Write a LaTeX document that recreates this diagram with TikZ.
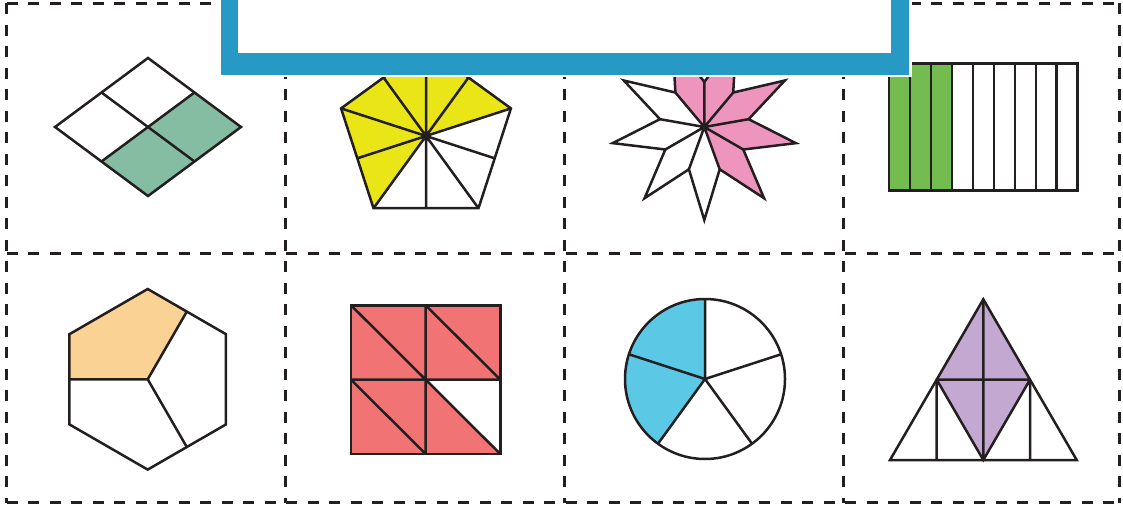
\documentclass[tikz,border=0pt]{standalone}
\usepackage{xcolor}
\usepackage{tikz}
\usetikzlibrary{calc}

\definecolor{bannerblue}{RGB}{38,153,197}
\definecolor{rhombusgreen}{RGB}{133,189,163}
\definecolor{pentyellow}{RGB}{234,229,22}
\definecolor{starpink}{RGB}{238,149,190}
\definecolor{bargreen}{RGB}{117,188,80}
\definecolor{hexorange}{RGB}{250,210,147}
\definecolor{squarered}{RGB}{242,115,116}
\definecolor{pieblue}{RGB}{91,201,229}
\definecolor{trililac}{RGB}{195,169,209}
\definecolor{inkline}{RGB}{35,31,32}

\begin{document}
\begin{tikzpicture}[
    x=0.5pt,
    y=0.5pt,
    outline/.style={
        line width=1.25pt,
        draw=inkline,
        line join=miter
    },
    cutline/.style={
        line width=1.35pt,
        draw=inkline,
        dash pattern=on 5.5pt off 5.25pt
    }
]

\useasboundingbox (0,0) rectangle (1123,504);
\clip (0,0) rectangle (1123,504);

% ---------------------------------------------------------
% Dashed cutting grid
% ---------------------------------------------------------

\draw[cutline] (6.5,500.7) -- (1119.5,500.7);
\draw[cutline] (6.5,250.7) -- (1119.5,250.7);
\draw[cutline] (6.5,1.5) -- (1119.5,1.5);

\draw[cutline] (6.5,500.7) -- (6.5,1.5);
\draw[cutline] (285.5,500.7) -- (285.5,1.5);
\draw[cutline] (564.7,500.7) -- (564.7,1.5);
\draw[cutline] (843.7,500.7) -- (843.7,1.5);
\draw[cutline] (1119.5,500.7) -- (1119.5,1.5);

% ---------------------------------------------------------
% Rhombus in quarters
% ---------------------------------------------------------

\coordinate (rhombusC) at (148,377);

\fill[rhombusgreen]
    (rhombusC) -- (194.5,411.5) -- (241,377)
    -- (148,308) -- (101.5,342.5) -- cycle;

\draw[outline]
    (148,446) -- (241,377) -- (148,308) -- (55,377) -- cycle;
\draw[outline] (101.5,411.5) -- (194.5,342.5);
\draw[outline] (194.5,411.5) -- (101.5,342.5);

% ---------------------------------------------------------
% Pentagon in tenths
% ---------------------------------------------------------

\coordinate (pentC) at (426,368);

\begin{scope}[shift={(pentC)}]
    \fill[pentyellow]
        (0,0) -- (234:89.3) -- (162:89.3)
        -- (90:89.3) -- (18:89.3) -- cycle;

    \draw[outline]
        (90:89.3) -- (162:89.3) -- (234:89.3)
        -- (306:89.3) -- (18:89.3) -- cycle;

    % spokes to corners and edge midpoints
    \draw[outline]
        (0,0) -- (90:89.3)  (0,0) -- (162:89.3)
        (0,0) -- (234:89.3) (0,0) -- (306:89.3)
        (0,0) -- (18:89.3)
        (0,0) -- (54:72.2)  (0,0) -- (126:72.2)
        (0,0) -- (198:72.2) (0,0) -- (270:72.2)
        (0,0) -- (342:72.2);
\end{scope}

% ---------------------------------------------------------
% Nine-pointed star
% ---------------------------------------------------------

\coordinate (starC) at (704.3,377);

\begin{scope}[shift={(starC)}]
    \fill[starpink]
        (0,0) -- (130:45) -- (110:93) -- (90:45) -- (70:93)
        -- (50:45) -- (30:93) -- (10:45) -- (350:93)
        -- (330:45) -- (310:93) -- (290:45) -- cycle;

    \draw[outline]
        (10:45) -- (30:93) -- (50:45) -- (70:93)
        -- (90:45) -- (110:93) -- (130:45) -- (150:93)
        -- (170:45) -- (190:93) -- (210:45) -- (230:93)
        -- (250:45) -- (270:93) -- (290:45) -- (310:93)
        -- (330:45) -- (350:93) -- cycle;

    \draw[outline]
        (0,0) -- (10:45)  (0,0) -- (50:45)
        (0,0) -- (90:45)  (0,0) -- (130:45)
        (0,0) -- (170:45) (0,0) -- (210:45)
        (0,0) -- (250:45) (0,0) -- (290:45)
        (0,0) -- (330:45);
\end{scope}

% ---------------------------------------------------------
% Strip of nine bars
% ---------------------------------------------------------

\fill[bargreen] (889,313.3) rectangle (951.9,440.7);

\draw[outline] (889,313.3) rectangle (1077.7,440.7);
\draw[outline]
    (910,313.3) -- (910,440.7)
    (930.9,313.3) -- (930.9,440.7)
    (951.9,313.3) -- (951.9,440.7)
    (972.9,313.3) -- (972.9,440.7)
    (993.8,313.3) -- (993.8,440.7)
    (1014.8,313.3) -- (1014.8,440.7)
    (1035.8,313.3) -- (1035.8,440.7)
    (1056.7,313.3) -- (1056.7,440.7);

% ---------------------------------------------------------
% Hexagon in thirds
% ---------------------------------------------------------

\coordinate (hexC) at (147.7,124.7);

\begin{scope}[shift={(hexC)}]
    \fill[hexorange]
        (0,0) -- (180:78.2) -- (150:90.3)
        -- (90:90.3) -- (60:78.2) -- cycle;

    \draw[outline]
        (90:90.3) -- (150:90.3) -- (210:90.3)
        -- (270:90.3) -- (330:90.3) -- (30:90.3) -- cycle;

    \draw[outline]
        (180:78.2) -- (0,0) -- (60:78.2)
        (0,0) -- (300:78.2);
\end{scope}

% ---------------------------------------------------------
% Square in eighths
% ---------------------------------------------------------

\fill[squarered]
    (351,50) -- (500.3,50) -- (425.7,124.3)
    -- (500.3,124.3) -- (500.3,198.7) -- (351,198.7) -- cycle;

\draw[outline] (351,50) rectangle (500.3,198.7);
\draw[outline]
    (425.7,50) -- (425.7,198.7)
    (351,124.3) -- (500.3,124.3)
    (351,198.7) -- (500.3,50)
    (425.7,198.7) -- (500.3,124.3)
    (351,124.3) -- (425.7,50);

% ---------------------------------------------------------
% Circle in fifths
% ---------------------------------------------------------

\coordinate (pieC) at (705,125);

\begin{scope}[shift={(pieC)}]
    \fill[pieblue]
        (0,0) -- (90:80) arc[start angle=90,end angle=234,radius=80]
        -- cycle;

    \draw[outline] (0,0) circle[radius=80];
    \draw[outline]
        (0,0) -- (90:80)   (0,0) -- (18:80)
        (0,0) -- (-54:80)  (0,0) -- (234:80)
        (0,0) -- (162:80);
\end{scope}

% ---------------------------------------------------------
% Triangle in sixths
% ---------------------------------------------------------

\fill[trililac]
    (983.3,204.7) -- (1030,124.35) -- (983.3,44)
    -- (936.7,124.35) -- cycle;

\draw[outline] (983.3,204.7) -- (1076.7,44) -- (890,44) -- cycle;
\draw[outline]
    (936.7,124.35) -- (1030,124.35)
    (936.7,124.35) -- (983.3,44) -- (1030,124.35)
    (983.3,204.7) -- (983.3,44)
    (936.7,124.35) -- (936.7,44)
    (1030,124.35) -- (1030,44);

% ---------------------------------------------------------
% Title banner (empty box at the top)
% ---------------------------------------------------------

\fill[white] (218,426.5) rectangle (911.8,560);
\fill[bannerblue] (220.5,429) rectangle (909.3,560);
\fill[white] (238.3,451.3) rectangle (891,560);

\end{tikzpicture}
\end{document}
